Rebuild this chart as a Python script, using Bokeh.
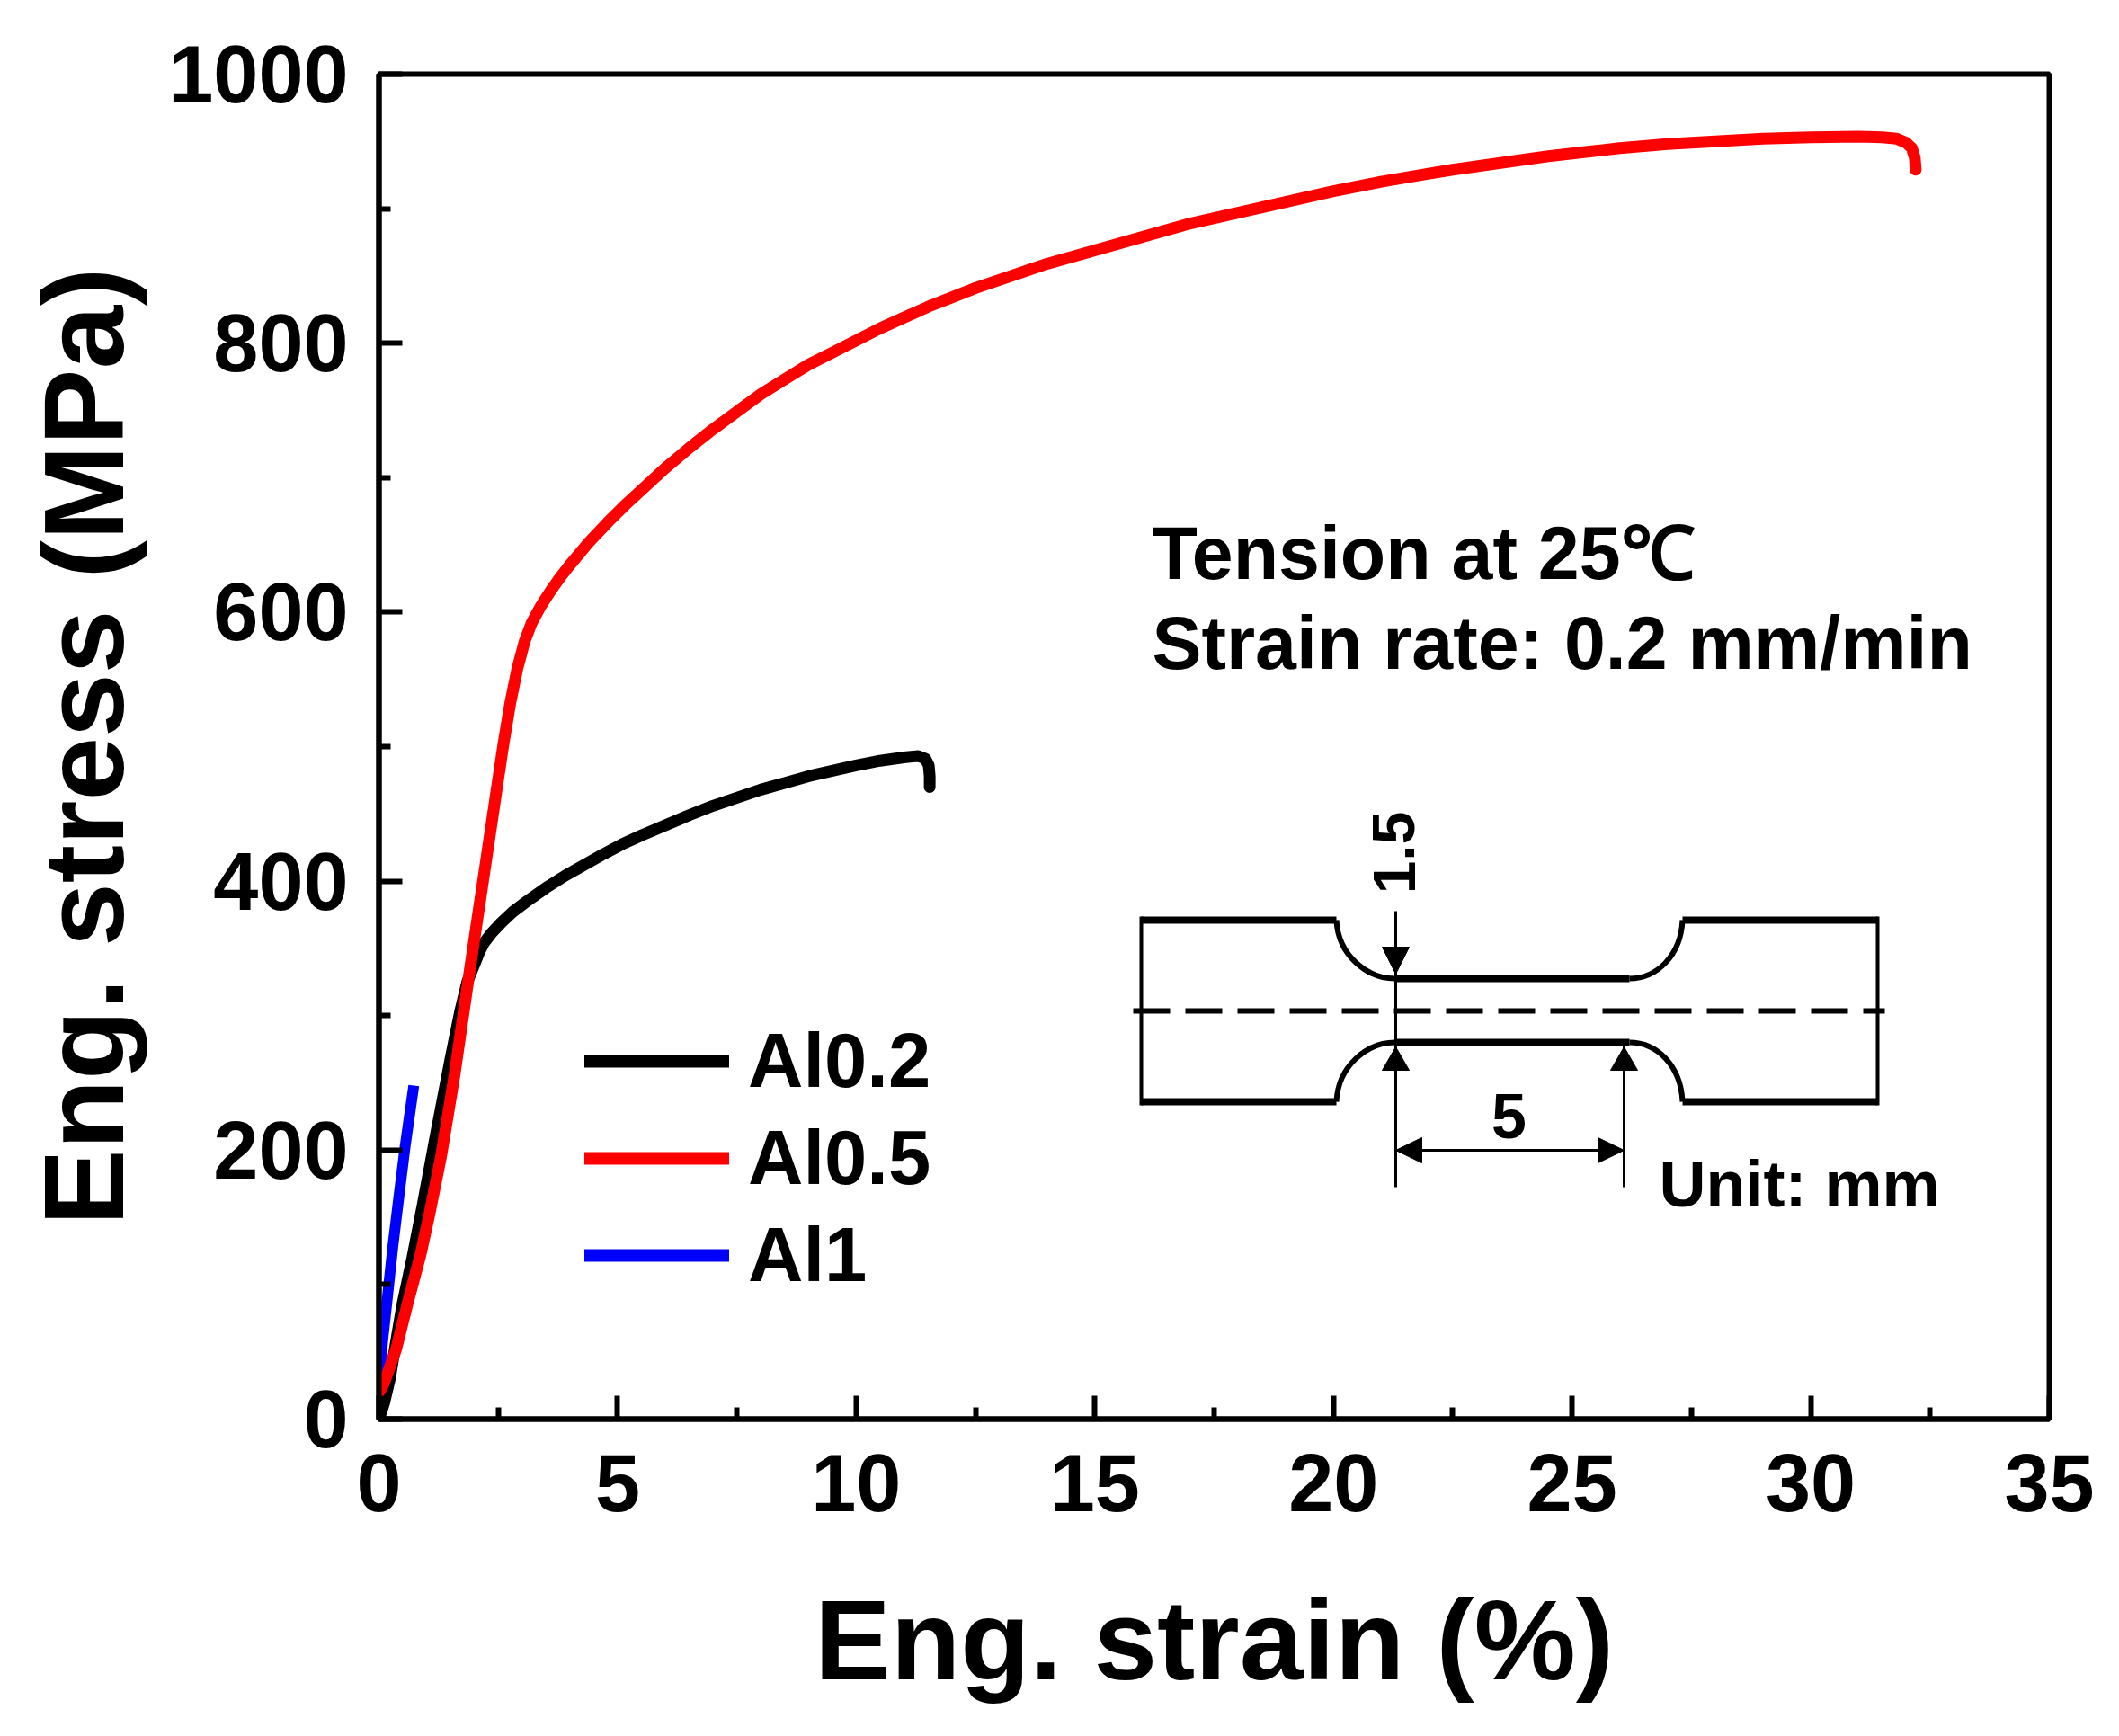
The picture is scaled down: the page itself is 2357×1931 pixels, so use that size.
from bokeh.plotting import figure
from bokeh.models import FixedTicker, Legend, LegendItem
from bokeh.core.properties import value
from bokeh.embed import file_html
from bokeh.resources import INLINE

# ---- data ----
al02_x = [0, 0.11, 0.23, 0.36, 0.49, 0.7, 0.92, 1.2, 1.5, 1.7, 1.85, 2.0, 2.1, 2.2, 2.35, 2.56, 2.8, 3.1, 3.5, 3.9, 4.3, 4.7, 5.1, 5.5, 6, 6.5, 7, 7.5, 8, 8.5, 9, 9.5, 10, 10.5, 11, 11.3, 11.45, 11.52, 11.54, 11.54]
al02_y = [0, 12, 30, 58, 85, 120, 160, 213, 268, 303, 325, 338, 347, 354, 361, 369, 377, 385, 395, 404, 412, 420, 427.5, 434, 441.5, 449, 456, 462, 468, 473, 478, 482, 486, 489.5, 492, 493, 491, 486, 478, 470]
al05_x = [0.02, 0.11, 0.36, 0.6, 0.87, 1.05, 1.3, 1.58, 1.83, 2.05, 2.24, 2.42, 2.6, 2.75, 2.9, 3.05, 3.2, 3.4, 3.6, 3.8, 4.0, 4.4, 4.8, 5.2, 5.6, 6, 6.5, 7, 7.5, 8, 8.5, 9, 9.5, 10, 10.5, 11, 11.5, 12, 12.5, 13, 13.5, 14, 14.5, 15, 15.5, 16, 16.5, 17, 17.5, 18, 18.5, 19, 19.5, 20, 20.5, 21, 21.5, 22, 22.5, 23, 23.5, 24, 24.5, 25, 25.5, 26, 26.5, 27, 27.5, 28, 28.5, 29, 29.5, 30, 31, 31.5, 31.8, 32, 32.12, 32.18, 32.2]
al05_y = [21, 27, 52, 86, 122, 151, 195, 255, 316, 369, 414, 457, 500, 532, 558, 578, 592, 605, 616, 626, 635, 652, 667, 681, 694, 707, 722, 736, 749, 762, 773, 784, 793, 802, 811, 819, 827, 834, 841, 847, 853, 859, 864, 869, 874, 879, 884, 889, 893, 897, 901, 905, 909, 913, 916.5, 920, 923, 926, 929, 931.5, 934, 936.5, 939, 941, 943, 945, 946.5, 948, 949, 950, 951, 952, 952.5, 953, 953.5, 953, 952, 949, 945, 938, 929]
al1_x = [0.01, 0.03, 0.08, 0.17, 0.29, 0.42, 0.55, 0.73]
al1_y = [25, 37, 59, 88, 128, 166, 203, 248]
x_major = [0, 5, 10, 15, 20, 25, 30, 35]
x_minor = [2.5, 7.5, 12.5, 17.5, 22.5, 27.5, 32.5]
y_major = [0, 200, 400, 600, 800, 1000]
y_minor = [100, 300, 500, 700, 900]
names = ["Al0.2", "Al0.5", "Al1"]
colors = ["#000000", "#ff0000", "#0000ff"]

FONT = "Liberation Sans"
L, R, T, B = 421, 2279, 82, 1578
def dx(px): return (px - L) / (R - L) * 35
def dy(py): return (B - py) / (B - T) * 1000

p = figure(width=2341, height=1915, output_backend="svg", toolbar_location=None,
           x_range=(0, 35), y_range=(0, 1000),
           min_border_left=L, min_border_right=2341 - R,
           min_border_top=T, min_border_bottom=1915 - B)
p.grid.visible = False
p.outline_line_color = "black"
p.outline_line_width = 6
p.background_fill_color = "white"
p.border_fill_color = "white"

p.xaxis.ticker = FixedTicker(ticks=x_major, minor_ticks=x_minor)
p.yaxis.ticker = FixedTicker(ticks=y_major, minor_ticks=y_minor)
p.xaxis.axis_label = "Eng. strain (%)"
p.yaxis.axis_label = "Eng. stress (MPa)"
for ax in (p.xaxis[0], p.yaxis[0]):
    ax.axis_line_width = 6
    ax.major_tick_line_width = 6
    ax.minor_tick_line_width = 6
    ax.major_tick_in = 26
    ax.major_tick_out = 0
    ax.minor_tick_in = 13
    ax.minor_tick_out = 0
    ax.major_label_text_font = FONT
    ax.major_label_text_font_style = "bold"
    ax.major_label_text_font_size = "90px"
    ax.major_label_text_color = "black"
    ax.axis_label_text_font = FONT
    ax.axis_label_text_font_style = "bold"
    ax.axis_label_text_color = "black"
p.xaxis.axis_label_text_font_size = "127px"
p.yaxis.axis_label_text_font_size = "127px"
p.xaxis.major_label_standoff = 39
p.yaxis.major_label_standoff = 34
p.xaxis.axis_label_standoff = 69
p.yaxis.axis_label_standoff = 20

p.line(al02_x, al02_y, line_color=colors[0], line_width=13, line_cap="round", line_join="round")
p.line(al1_x, al1_y, line_color=colors[2], line_width=12, line_cap="butt", line_join="round")
p.line(al05_x, al05_y, line_color=colors[1], line_width=13, line_cap="round", line_join="round")
nan = float("nan")
keys = [p.line([nan, nan], [nan, nan], line_color=c, line_width=14, line_cap="round") for c in colors]

leg = Legend(items=[LegendItem(label=n, renderers=[r]) for n, r in zip(names, keys)],
             location=(650 - L, B - 1445), glyph_width=161, glyph_height=90, label_standoff=21,
             spacing=10, padding=0, margin=0, border_line_color=None, background_fill_alpha=0,
             label_text_font=FONT, label_text_font_style="bold", label_text_font_size="85px",
             label_text_color="black")
p.add_layout(leg)

def txt(x, y, s, size, angle=0, align="left"):
    p.text([dx(x)], [dy(y)], text=[s], text_font=value(FONT), text_font_style="bold",
           text_font_size=size, text_color="black", angle=angle, text_align=align,
           text_baseline="alphabetic")

txt(1281, 614, "Tension at 25℃", "82.5px")
txt(1281, 714, "Strain rate: 0.2 mm/min", "82.5px")
txt(1845, 1316, "Unit: mm", "72px")
txt(1678, 1241, "5", "70px", align="center")
txt(1550, 948, "1.5", "66px", angle=1.5708, align="center")

# specimen sketch (positions taken through the chart's scales)
xl, xr = 1269, 2088
yt, yb, nt, nb = 1023, 1225, 1088, 1159
s1, s2, e1, e2 = 1486, 1551, 1812, 1871
def seg(xs, ys, w=7, dash="solid"):
    p.line([dx(v) for v in xs], [dy(v) for v in ys], line_color="black", line_width=w,
           line_dash=dash, line_cap="butt", line_join="miter")
seg([s1, xl], [yt, yt], 8)
seg([s1, xl], [yb, yb], 8)
seg([e2, xr], [yt, yt], 8)
seg([e2, xr], [yb, yb], 8)
seg([xl, xl], [yt - 4, yb + 4], 4)
seg([xr, xr], [yt - 4, yb + 4], 4)
seg([s2, e1], [nt, nt], 8)
seg([s2, e1], [nb, nb], 8)
for x0, y0, c0x, c0y, c1x, c1y, x1, y1 in [
    (s1, yt, s1 + 2, nt - 25, s2 - 30, nt, s2, nt),
    (s1, yb, s1 + 2, nb + 25, s2 - 30, nb, s2, nb),
    (e2, yt, e2 - 2, nt - 25, e1 + 30, nt, e1, nt),
    (e2, yb, e2 - 2, nb + 25, e1 + 30, nb, e1, nb),
]:
    p.bezier([dx(x0)], [dy(y0)], [dx(x1)], [dy(y1)], [dx(c0x)], [dy(c0y)], [dx(c1x)], [dy(c1y)],
             line_color="black", line_width=6)
seg([1260, 2096], [1124, 1124], 6, "41 17")
seg([1552, 1552], [1013, 1320], 3)
seg([1806, 1806], [1162, 1320], 3)
seg([1552, 1806], [1279, 1279], 3)
heads = [
    ([1537, 1567, 1552], [1053, 1053, 1083]),
    ([1537, 1567, 1552], [1190, 1190, 1164]),
    ([1791, 1821, 1806], [1190, 1190, 1164]),
    ([1581, 1581, 1552], [1265, 1293, 1279]),
    ([1777, 1777, 1806], [1265, 1293, 1279]),
]
p.patches([[dx(v) for v in h[0]] for h in heads], [[dy(v) for v in h[1]] for h in heads],
          fill_color="black", line_color="black", line_width=1)

open("out.html", "w").write(file_html(p, INLINE))
